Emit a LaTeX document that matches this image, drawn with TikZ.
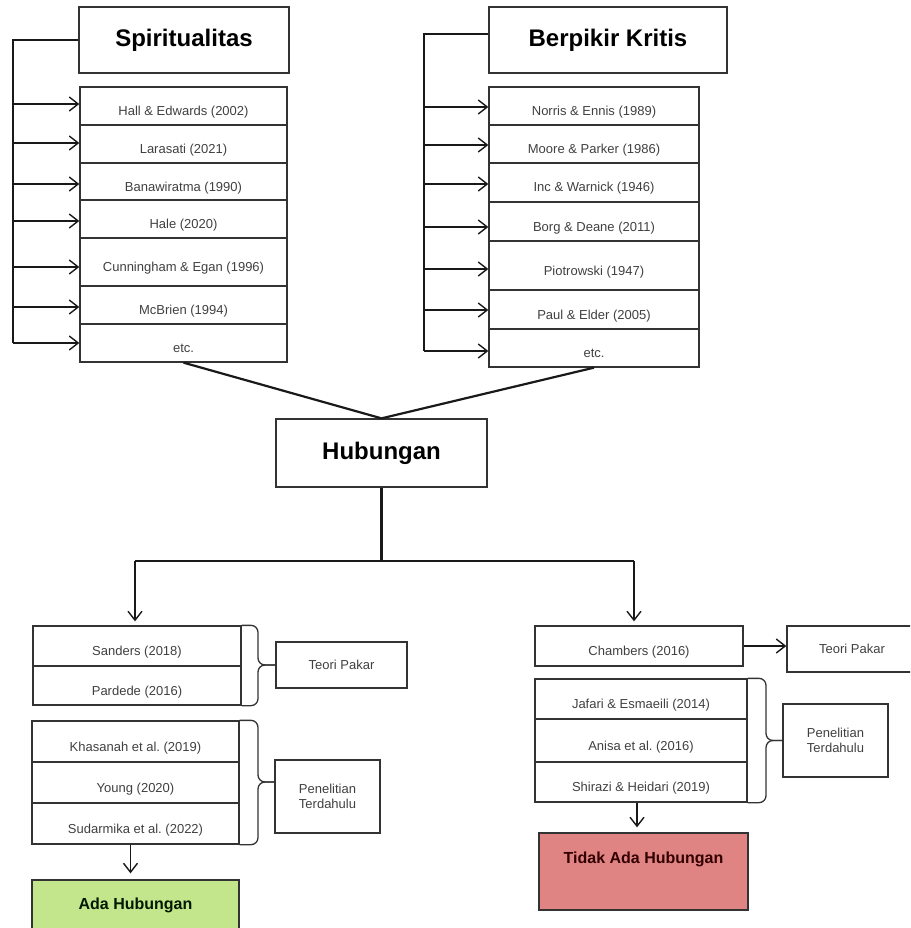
\documentclass[tikz,border=0pt]{standalone}
\usepackage{fontspec}
\setmainfont{Liberation Sans}
\usetikzlibrary{arrows.meta}
\definecolor{adagreen}{HTML}{C3E68C}
\definecolor{tidakred}{HTML}{E08383}
\definecolor{edge}{HTML}{333333}
\frenchspacing
\tikzset{
  box/.style={draw=edge, line width=1.3pt, inner sep=0pt},
  rowbox/.style={box, font=\fontsize{13}{15.6}\selectfont, text=black!75, text height=22pt, text depth=3pt},
  labelbox/.style={box, font=\fontsize{13}{15.6}\selectfont, text=black!75, align=center},
  titlebox/.style={box, font=\bfseries\fontsize{24}{28}\selectfont},
  resbox/.style={box, font=\bfseries\fontsize{16}{19}\selectfont},
  conn/.style={draw=black!90, line width=1.4pt},
  arr/.style={conn, -{Straight Barb[length=9pt,width=14pt,line width=1.4pt]}},
  bracepath/.style={draw=edge, line width=1.3pt, rounded corners=7pt},
}
\begin{document}
\begin{tikzpicture}[x=1pt,y=-1pt]
\useasboundingbox (0,0) rectangle (910,928);
\clip (0,0) rectangle (910,928);
% ---------- Spiritualitas ----------
\node[titlebox, minimum width=210pt, minimum height=66pt] (sp) at (184,40) {Spiritualitas};
\node[rowbox, minimum width=207pt, minimum height=38pt] (s1) at (183.5,106) {Hall \& Edwards (2002)};
\node[rowbox, minimum width=207pt, minimum height=38pt] (s2) at (183.5,144) {Larasati (2021)};
\node[rowbox, minimum width=207pt, minimum height=37pt] (s3) at (183.5,181.5) {Banawiratma (1990)};
\node[rowbox, minimum width=207pt, minimum height=38pt] (s4) at (183.5,219) {Hale (2020)};
\node[rowbox, minimum width=207pt, minimum height=48pt] (s5) at (183.5,262) {Cunningham \& Egan (1996)};
\node[rowbox, minimum width=207pt, minimum height=38pt] (s6) at (183.5,305) {McBrien (1994)};
\node[rowbox, minimum width=207pt, minimum height=38pt] (s7) at (183.5,343) {etc.};
\coordinate (ta) at (13,40);
\draw[conn] (sp.west) -- (ta) -- (ta |- 0,343);
\foreach \y/\n in {104/s1,143/s2,184/s3,221/s4,267/s5,307/s6,343/s7}
  \draw[arr] (ta |- 0,\y) -- (\n.west |- 0,\y);
% ---------- Berpikir Kritis ----------
\node[titlebox, minimum width=238pt, minimum height=66pt] (bk) at (608,40) {Berpikir Kritis};
\node[rowbox, minimum width=210pt, minimum height=38pt] (b1) at (594,106) {Norris \& Ennis (1989)};
\node[rowbox, minimum width=210pt, minimum height=38pt] (b2) at (594,144) {Moore \& Parker (1986)};
\node[rowbox, minimum width=210pt, minimum height=39pt] (b3) at (594,182.5) {Inc \& Warnick (1946)};
\node[rowbox, minimum width=210pt, minimum height=39pt] (b4) at (594,221.5) {Borg \& Deane (2011)};
\node[rowbox, minimum width=210pt, minimum height=49pt] (b5) at (594,265.5) {Piotrowski (1947)};
\node[rowbox, minimum width=210pt, minimum height=39pt] (b6) at (594,309.5) {Paul \& Elder (2005)};
\node[rowbox, minimum width=210pt, minimum height=38pt] (b7) at (594,348) {etc.};
\coordinate (tb) at (424,34);
\draw[conn] (bk.west |- tb) -- (tb) -- (tb |- 0,351);
\foreach \y/\n in {107/b1,145/b2,184/b3,227/b4,269/b5,310/b6,351/b7}
  \draw[arr] (tb |- 0,\y) -- (\n.west |- 0,\y);
% ---------- Hubungan ----------
\node[titlebox, minimum width=211pt, minimum height=68pt] (hub) at (381.5,453) {Hubungan};
\draw[conn, line width=2.2pt] (s7.south) -- (hub.north);
\draw[conn, line width=2.2pt] (b7.south) -- (hub.north);
\coordinate (jm) at (381.5,561);
\coordinate (jl) at (135,561);
\coordinate (jr) at (634,561);
\draw[conn, line width=3pt] (hub.south) -- (jm);
\draw[conn, line width=1.8pt] (jl) -- (jr);
% ---------- Left lower ----------
\node[rowbox, minimum width=208pt, minimum height=40pt] (sa1) at (137,646) {Sanders (2018)};
\node[rowbox, minimum width=208pt, minimum height=39pt] (sa2) at (137,685.5) {Pardede (2016)};
\node[labelbox, minimum width=131pt, minimum height=46pt] (tp1) at (341.5,665) {Teori Pakar};
\node[rowbox, minimum width=207pt, minimum height=41pt] (k1) at (135.5,741.5) {Khasanah et al. (2019)};
\node[rowbox, minimum width=207pt, minimum height=41pt] (k2) at (135.5,782.5) {Young (2020)};
\node[rowbox, minimum width=207pt, minimum height=41pt] (k3) at (135.5,823.5) {Sudarmika et al. (2022)};
\node[labelbox, minimum width=105pt, minimum height=73pt] (pt1) at (327.5,796.5) {Penelitian\\Terdahulu};
\node[resbox, fill=adagreen, text=black!90!green, minimum width=207pt, minimum height=50pt] (ada) at (135.5,905) {Ada Hubungan};
\draw[arr, shorten >=4pt] (jl) -- (jl |- sa1.north);
\coordinate (bm1) at (258,665);
\draw[bracepath] (sa1.north east) -| (bm1) -- (tp1.west);
\draw[bracepath] (sa2.south east) -| (bm1) -- (tp1.west);
\coordinate (bm2) at (258,782);
\draw[bracepath] (k1.north east) -| (bm2) -- (pt1.west |- bm2);
\draw[bracepath] (k3.south east) -| (bm2) -- (pt1.west |- bm2);
\draw[arr, shorten >=6pt] ([xshift=-5pt]k3.south) -- ([xshift=-5pt]k3.south |- ada.north);
% ---------- Right lower ----------
\node[rowbox, minimum width=208pt, minimum height=40pt] (ch) at (639,646) {Chambers (2016)};
\node[labelbox, minimum width=130pt, minimum height=46pt] (tp2) at (852,649) {Teori Pakar};
\node[rowbox, minimum width=212pt, minimum height=40pt] (j1) at (641,699) {Jafari \& Esmaeili (2014)};
\node[rowbox, minimum width=212pt, minimum height=43pt] (j2) at (641,740.5) {Anisa et al. (2016)};
\node[rowbox, minimum width=212pt, minimum height=40pt] (j3) at (641,782) {Shirazi \& Heidari (2019)};
\node[labelbox, minimum width=105pt, minimum height=73pt] (pt2) at (835.5,740.5) {Penelitian\\Terdahulu};
\node[box, fill=tidakred, minimum width=209pt, minimum height=77pt] (tid) at (643.5,871.5) {};
\node[font=\bfseries\fontsize{16}{19}\selectfont, text=black!80!red, inner sep=0pt] (tidt) at (643.5,859) {Tidak Ada Hubungan};
\draw[arr, shorten >=4pt] (jr) -- (jr |- ch.north);
\draw[arr] (ch.east) -- (ch.east -| tp2.west);
\coordinate (bm3) at (766,740.5);
\draw[bracepath] (j1.north east) -| (bm3) -- (pt2.west);
\draw[bracepath] (j3.south east) -| (bm3) -- (pt2.west);
\draw[arr, shorten >=5pt] ([xshift=-4pt]j3.south) -- ([xshift=-4pt]j3.south |- tid.north);
\end{tikzpicture}
\end{document}
